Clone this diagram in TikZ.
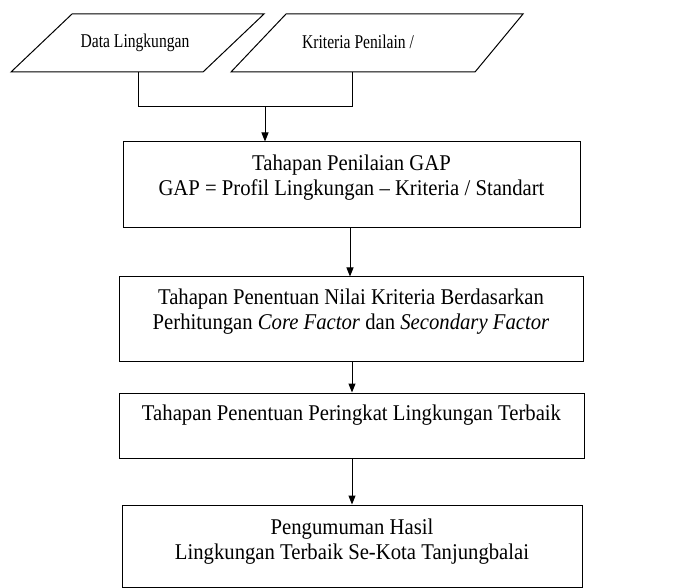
\documentclass[tikz,border=0pt]{standalone}
\usepackage{fontspec}
\setmainfont[FakeStretch=0.92]{Liberation Serif}
\newfontfamily\parfont[FakeStretch=0.8]{Liberation Serif}
\usetikzlibrary{arrows.meta}
\begin{document}
\begin{tikzpicture}[x=1pt,y=-1pt,
  every node/.style={font=\fontsize{22.5}{25}\selectfont, inner sep=0pt, align=center},
  small/.style={font=\parfont\fontsize{19.5}{23}\selectfont},
  boxshape/.style={draw, line width=1pt, rectangle},
  line/.style={line width=1pt},
  arr/.style={line width=1pt, -{Triangle[width=7pt,length=9pt]}}]
\useasboundingbox (0,0) rectangle (691,588);
% parallelograms
\coordinate (p1a) at (72,14); \coordinate (p1b) at (264,14);
\coordinate (p1c) at (203,72); \coordinate (p1d) at (11,72);
\draw[line] (p1a) -- (p1b) -- (p1c) -- (p1d) -- cycle;
\coordinate (p2a) at (286,14); \coordinate (p2b) at (523,14);
\coordinate (p2c) at (475,72); \coordinate (p2d) at (231,72);
\draw[line] (p2a) -- (p2b) -- (p2c) -- (p2d) -- cycle;
\node[small] (t1) at (135,43) {Data Lingkungan};
\node[small] (t2) at (358,42) {Kriteria Penilain /};
% joining connector
\coordinate (d1) at (138,72);
\coordinate (d2) at (352,72);
\coordinate (j) at (265,107);
\draw[line] (d1) -- (138,107) -- (352,107) -- (d2);
% boxes
\node[boxshape, minimum width=457pt, minimum height=86pt] (b1) at (351.5,185) {};
\node (b1t) at (351.5,177.5) {Tahapan Penilaian GAP\\GAP = Profil Lingkungan -- Kriteria / Standart};
\node[boxshape, minimum width=464pt, minimum height=84pt] (b2) at (351,319) {};
\node (b2t) at (351,311.5) {Tahapan Penentuan Nilai Kriteria Berdasarkan\\Perhitungan \textit{Core Factor} dan \textit{Secondary Factor}};
\node[boxshape, minimum width=465pt, minimum height=65pt] (b3) at (351.5,425.5) {};
\node (b3t) at (351.5,415) {Tahapan Penentuan Peringkat Lingkungan Terbaik};
\node[boxshape, minimum width=460pt, minimum height=82pt] (b4) at (352,546) {};
\node (b4t) at (352,541.5) {Pengumuman Hasil\\Lingkungan Terbaik Se-Kota Tanjungbalai};
% arrows
\draw[arr] (j) -- (j |- b1.north);
\draw[arr] (b1.south -| 350,0) -- (b2.north -| 350,0);
\draw[arr] (b2.south -| 352,0) -- (b3.north -| 352,0);
\draw[arr] (b3.south -| 352,0) -- (b4.north -| 352,0);
\end{tikzpicture}
\end{document}
